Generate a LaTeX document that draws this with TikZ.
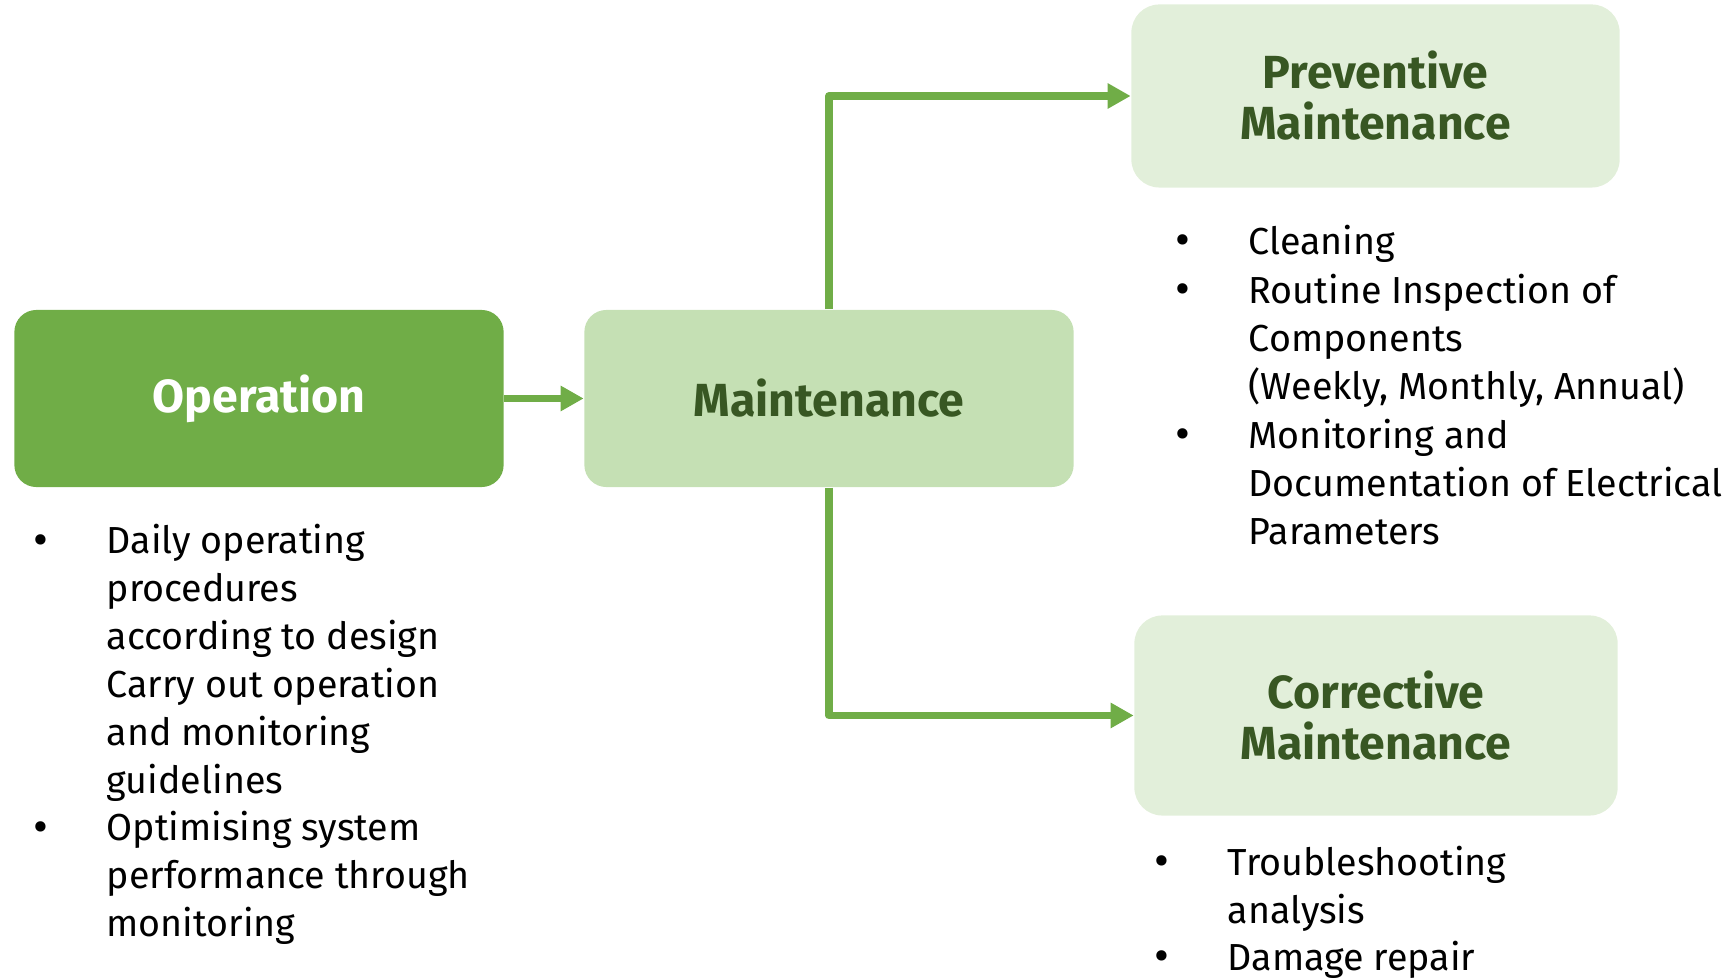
\documentclass[tikz,border=0pt]{standalone}
\usepackage{fontspec}
\setmainfont{Fira Sans}
\usetikzlibrary{arrows.meta,positioning,calc}
\definecolor{opgreen}{HTML}{70AD47}
\definecolor{mtgreen}{HTML}{C5E0B4}
\definecolor{palegreen}{HTML}{E2EFDA}
\definecolor{darkgreen}{HTML}{385723}

\tikzset{
  box/.style={rounded corners=0.22cm, minimum width=4.89cm, minimum height=1.77cm,
    align=center, font=\fontsize{13.2}{14.5}\selectfont\bfseries},
  subbox/.style={box, fill=palegreen, text=darkgreen, rounded corners=0.28cm},
  link/.style={draw=opgreen, line width=2.2pt, line join=round,
    -{Triangle[length=0.23cm, width=0.24cm]}},
  listtext/.style={align=left, inner sep=0pt, font=\fontsize{10.7}{13.6}\selectfont},
  dot/.style={inner sep=0pt, font=\fontsize{13}{13.6}\selectfont}
}

\begin{document}
\begin{tikzpicture}[x=0.01cm, y=-0.01cm]
\useasboundingbox (0,0) rectangle (1736,980);

% boxes
\node[box, fill=opgreen, text=white] (oper) at (259,398.5) {Operation};
\node[box, fill=mtgreen, text=darkgreen] (maint) at (829,398.5) {Maintenance};
\node[subbox, minimum width=4.88cm, minimum height=1.83cm] (prev) at (1375.5,96) {Preventive\\Maintenance};
\node[subbox, minimum width=4.83cm, minimum height=2.0cm] (corr) at (1376,715.5) {Corrective\\Maintenance};

% arrows
\draw[link] (oper) -- (maint);
\draw[link] (maint.north) |- (prev.west);
\draw[link] (maint.south) |- (corr.west);

% lists under the boxes (anchored at the last line)
\node[listtext, anchor=base west] (oplist) at (106,936.5)
  {Daily operating\\procedures\\according to design\\Carry out operation\\and monitoring\\guidelines\\Optimising system\\performance through\\monitoring};
\node[dot, anchor=base west] (opb1) at (33,556) {•};
\node[dot, anchor=base west] (opb2) at (33,843) {•};

\node[listtext, anchor=base west, font=\fontsize{10.7}{13.75}\selectfont] (prevlist) at (1248,545)
  {Cleaning\\Routine Inspection of\\Components\\(Weekly, Monthly, Annual)\\Monitoring and\\Documentation of Electrical\\Parameters};
\node[dot, anchor=base west] (prevb1) at (1175,256) {•};
\node[dot, anchor=base west] (prevb2) at (1175,304.5) {•};
\node[dot, anchor=base west] (prevb3) at (1175,449.5) {•};

\node[listtext, anchor=base west] (corrlist) at (1227,971)
  {Troubleshooting\\analysis\\Damage repair};
\node[dot, anchor=base west] (corrb1) at (1154,877) {•};
\node[dot, anchor=base west] (corrb2) at (1154,972) {•};
\end{tikzpicture}
\end{document}
